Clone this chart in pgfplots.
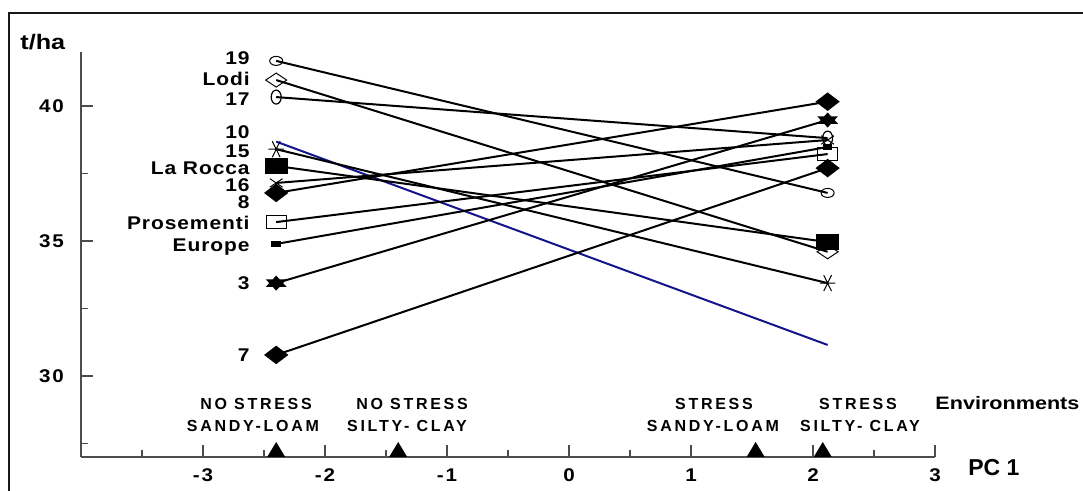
\documentclass[border=0pt]{standalone}
\usepackage{fontspec}
\setmainfont{Liberation Sans}
\newfontfamily\labfont[FakeStretch=1.14,LetterSpace=5]{Liberation Sans}
\newfontfamily\tickfont[FakeStretch=1.12,LetterSpace=10]{Liberation Sans}
\newfontfamily\widefont[FakeStretch=1.2]{Liberation Sans}
\newfontfamily\envfont[LetterSpace=17]{Liberation Sans}
\usepackage{pgfplots}
\pgfplotsset{compat=1.18}
\definecolor{navyline}{RGB}{20,20,140}
\pgfdeclareplotmark{hexstar}{%
  \pgfpathmoveto{\pgfqpoint{0pt}{\pgfplotmarksize}}%
  \pgfpathlineto{\pgfqpoint{0.866\pgfplotmarksize}{-0.5\pgfplotmarksize}}%
  \pgfpathlineto{\pgfqpoint{-0.866\pgfplotmarksize}{-0.5\pgfplotmarksize}}%
  \pgfpathclose
  \pgfpathmoveto{\pgfqpoint{0pt}{-\pgfplotmarksize}}%
  \pgfpathlineto{\pgfqpoint{-0.866\pgfplotmarksize}{0.5\pgfplotmarksize}}%
  \pgfpathlineto{\pgfqpoint{0.866\pgfplotmarksize}{0.5\pgfplotmarksize}}%
  \pgfpathclose
  \pgfusepathqfill}
\pgfdeclareplotmark{basetri}{%
  \pgfpathmoveto{\pgfqpoint{-\pgfplotmarksize}{0pt}}%
  \pgfpathlineto{\pgfqpoint{\pgfplotmarksize}{0pt}}%
  \pgfpathlineto{\pgfqpoint{0pt}{1.667\pgfplotmarksize}}%
  \pgfpathclose
  \pgfusepathqfill}
\begin{document}
\begin{tikzpicture}
\useasboundingbox (0,0) rectangle (541.5pt,245.5pt);
\begin{axis}[
  at={(40.5pt,17pt)}, anchor=south west, scale only axis,
  width=427pt, height=202.5pt,
  xmin=-4, xmax=3, ymin=27, ymax=42,
  axis x line=bottom, axis y line=left,
  axis line style={-, line width=0.7pt, black!70},
  every tick/.style={line width=0.6pt, black!70},
  xtick={-3,...,3}, minor xtick={-3.5,-2.5,...,2.5},
  ytick={30,35,40}, minor ytick={27.5,32.5,37.5},
  tick align=inside,
  major tick length=6pt, minor tick length=3.5pt,
  /pgf/number format/assume math mode=true,
  ticklabel style={font=\tickfont\bfseries\fontsize{9.2}{10}\selectfont},
  yticklabel style={xshift=-5pt},
  xticklabel style={yshift=-2.5pt},
  clip=false,
  every axis plot/.append style={line width=1pt},
]
% 19
\addplot[black, mark=o, mark size=2.25pt, mark options={xscale=1.45, line width=0.5pt, fill=white}] coordinates {(-2.4,41.67) (2.12,36.78)};
% Lodi
\addplot[black, mark=diamond, mark size=3.5pt, mark options={xscale=2, line width=0.5pt, fill=white}] coordinates {(-2.4,40.96) (2.12,34.6)};
% 17
\addplot[black, mark=o, mark size=2.5pt, mark options={yscale=1.4, line width=0.6pt}] coordinates {(-2.4,40.33) (2.12,38.81)};
% 10
\addplot[navyline, no marks] coordinates {(-2.4,38.68) (2.12,31.15)};
% 15
\addplot[black, mark=asterisk, mark size=4.6pt, mark options={rotate=90, yscale=0.85, line width=0.5pt}] coordinates {(-2.4,38.4) (2.12,33.44)};
% La Rocca
\addplot[black, mark=square*, mark size=3.4pt, mark options={xscale=1.55}] coordinates {(-2.4,37.78) (2.12,34.96)};
% 16
\addplot[black, mark=x, mark size=3pt, mark options={xscale=1.5, line width=0.5pt}] coordinates {(-2.4,37.15) (2.12,38.74)};
% 8
\addplot[black, mark=diamond*, mark size=4pt, mark options={xscale=1.75}] coordinates {(-2.4,36.78) (2.12,40.16)};
% Prosementi
\addplot[black, mark=square, mark size=3.25pt, mark options={xscale=1.55, line width=0.5pt}] coordinates {(-2.4,35.7) (2.12,38.22)};
% Europe
\addplot[black, mark=square*, mark size=1.1pt, mark options={xscale=1.7}] coordinates {(-2.4,34.89) (2.12,38.48)};
% 3
\addplot[black, mark=hexstar, mark size=3.75pt, mark options={xscale=1.6}] coordinates {(-2.4,33.44) (2.12,39.48)};
% 7
\addplot[black, mark=diamond*, mark size=4pt, mark options={xscale=1.75}] coordinates {(-2.4,30.78) (2.12,37.70)};
% environments
\addplot[black, only marks, mark=basetri, mark size=4.5pt] coordinates {(-2.4,27) (-1.4,27) (1.53,27) (2.08,27)};
\end{axis}
\begin{scope}[x=0.5pt,y=-0.5pt,shift={(0pt,245.5pt)}]
\draw[line width=1.35pt, black!90] (1083,13) -- (9,13) -- (9,495);
\node[anchor=west, inner sep=0, font=\widefont\bfseries\fontsize{10.5}{12}\selectfont] at (20,42) {t/ha};
\foreach \t/\y in {19/58, Lodi/79, 17/99, 10/132, 15/150.5, La Rocca/168, 16/185, 8/202, Prosementi/223, Europe/245, 3/283, 7/355}
  \node[anchor=base east, inner sep=0, font=\labfont\bfseries\fontsize{9.2}{11}\selectfont] at (250,\y+6.6) {\t};
\begin{scope}[every node/.style={inner sep=0, font=\envfont\bfseries\fontsize{8}{10}\selectfont}]
\node at (256,404) {NO STRESS};
\node at (253,426) {SANDY-LOAM};
\node at (412,404) {NO STRESS};
\node at (407,426) {SILTY- CLAY};
\node at (714,404) {STRESS};
\node at (713,426) {SANDY-LOAM};
\node at (858,404) {STRESS};
\node at (860,426) {SILTY- CLAY};
\end{scope}
\node[anchor=west, inner sep=0, font=\widefont\bfseries\fontsize{9}{11}\selectfont] at (935,403) {Environments};
\node[anchor=west, inner sep=0, font=\bfseries\fontsize{11.5}{13}\selectfont] at (968,468) {PC 1};
\end{scope}
\end{tikzpicture}
\end{document}
